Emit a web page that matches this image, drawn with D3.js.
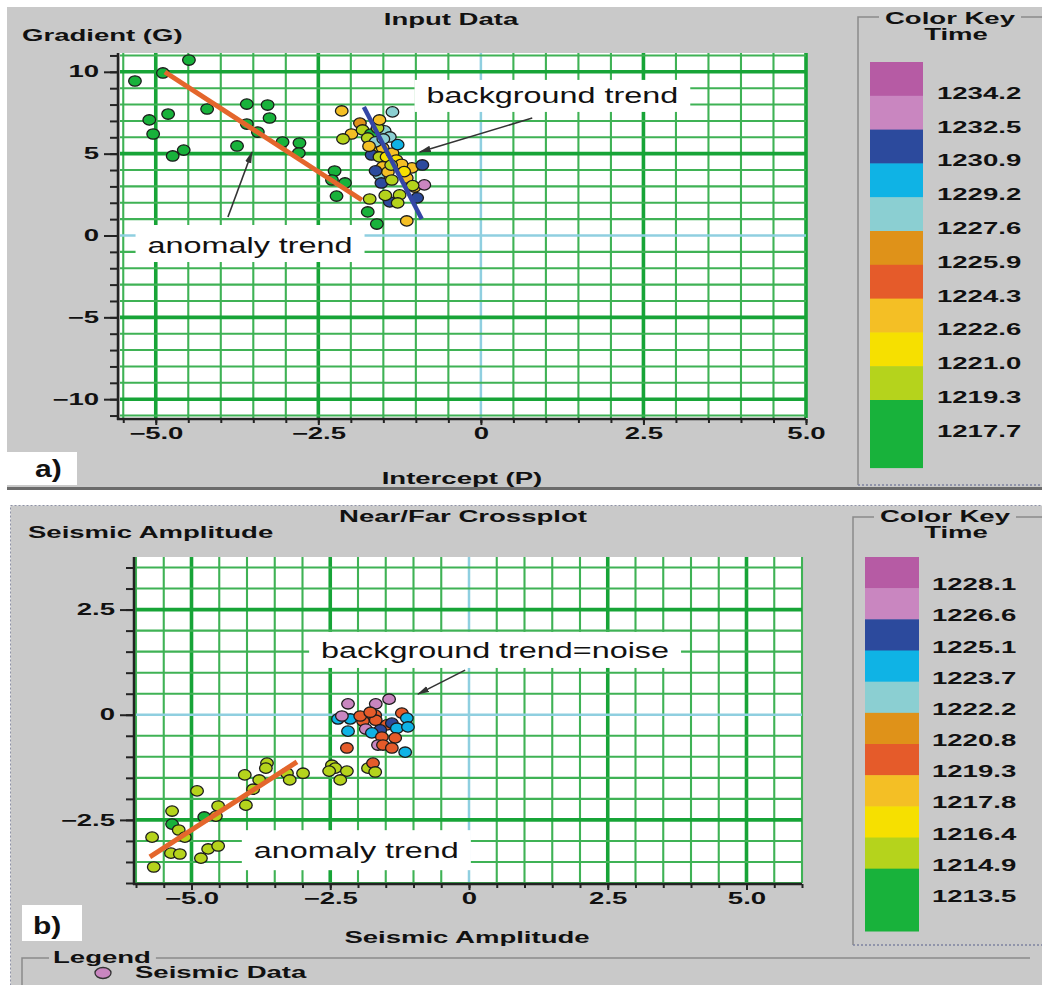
<!DOCTYPE html>
<html><head><meta charset="utf-8">
<script src="https://cdn.jsdelivr.net/npm/d3@7"></script>
<style>
html,body{margin:0;padding:0;background:#fff;}
svg{display:block;}
text{font-family:"Liberation Sans",Arial,sans-serif;}
</style></head><body>
<svg id="chart" width="1042" height="985"></svg>
<script>
// ================= DATA =================
const keyLabelsA = ["1234.2","1232.5","1230.9","1229.2","1227.6","1225.9","1224.3","1222.6","1221.0","1219.3","1217.7"];
const keyLabelsB = ["1228.1","1226.6","1225.1","1223.7","1222.2","1220.8","1219.3","1217.8","1216.4","1214.9","1213.5"];
// colours of the key, top to bottom
const keyColors = ["#b65ba4","#c986c0","#2c4a9d","#0fb3e5","#8bcfd2","#df9219","#e55b2a","#f4bf25","#f6e000","#b5d31c","#18b23b"];

const ticksAX = [-5, -2.5, 0, 2.5, 5];
const ticksAY = [10, 5, 0, -5, -10];
const ticksBX = [-5, -2.5, 0, 2.5, 5];
const ticksBY = [2.5, 0, -2.5];

// Panel a: Intercept (P) vs Gradient (G), colour = time
const aX = [-5.32,-4.89,-4.49,-5.10,-4.81,-5.04,-4.74,-4.57,-4.21,-3.60,-3.28,-3.25,-3.60,-3.43,-3.75,-3.05,-2.79,-2.80,-2.25,-2.22,-2.09,-2.29,-1.74,-1.60,
  -1.71,-2.14,-1.36,-1.86,-1.99,-2.12,-1.82,-1.69,-1.74,-1.48,-1.40,-1.66,-1.51,-1.68,-1.56,-1.45,-1.36,-1.30,-1.51,-1.06,-0.90,-1.56,-1.43,-1.53,-1.37,-1.14,-1.02,-0.87,-1.25,-1.40,-1.28,-1.14,-1.62,-1.59,-1.56,
  -1.50,-1.22,-1.38,-1.05,-1.47,-1.62,-1.28,-1.72,-1.18,-0.98];
const aY = [9.44,9.93,10.72,7.06,7.42,6.20,4.86,5.22,7.73,8.03,7.97,7.18,6.81,6.32,5.47,5.71,5.65,5.04,3.94,2.41,3.21,3.39,1.44,0.70,
  2.23,7.61,7.55,6.87,6.20,5.90,6.45,6.20,5.96,6.39,6.02,5.35,5.35,4.92,4.80,4.80,5.04,4.61,4.19,4.13,4.31,3.70,3.88,3.21,3.39,3.51,2.96,3.09,2.48,2.05,1.99,0.89,5.72,6.57,7.06,
  5.90,4.35,4.30,3.05,2.45,3.95,5.55,5.45,3.90,2.30];
const aTime = [1218.4,1218.4,1218.4,1218.4,1218.4,1218.4,1218.4,1218.4,1218.4,1218.4,1218.4,1218.4,1218.4,1218.4,1218.4,1218.4,1218.4,1218.4,1218.4,1218.4,1218.4,1218.4,1218.4,1218.4,
  1220.1,1223.4,1228.4,1226.8,1223.4,1220.1,1220.1,1218.4,1220.1,1228.4,1228.4,1221.8,1223.4,1231.7,1220.1,1221.8,1223.4,1221.8,1223.4,1223.4,1231.7,1228.4,1223.4,1231.7,1220.1,1223.4,1223.4,1233.3,1220.1,1231.7,1220.1,1223.4,1228.4,1220.1,1223.4,
  1228.4,1223.4,1220.1,1220.1,1220.1,1231.7,1230.0,1223.4,1221.8,1231.7];

// Panel b: Near/Far crossplot, colour = time
const bX = [-5.71,-5.35,-5.35,-5.23,-5.12,-5.37,-5.21,-5.68,-4.90,-4.77,-4.56,-4.52,-4.70,-4.52,-4.83,-4.04,-3.78,-3.64,-3.66,-4.02,-3.89,-3.28,-3.23,-2.99,-2.47,-2.41,-2.52,-2.20,-2.32,-1.82,-1.73,-1.69,
  -2.20,-1.15,-2.18,-1.68,-1.44,-1.21,-1.12,-2.36,-2.14,-2.29,-2.18,-1.91,-1.69,-1.68,-1.48,-1.39,-1.86,-1.60,-1.75,-1.30,-1.10,-1.57,-1.33,-1.64,-1.55,-1.39,-1.96,-1.78];
const bY = [-2.91,-2.29,-2.60,-2.74,-2.91,-3.29,-3.31,-3.62,-1.81,-2.43,-2.41,-2.17,-3.19,-3.12,-3.41,-1.43,-1.55,-1.15,-1.27,-2.15,-1.77,-1.39,-1.55,-1.39,-1.20,-1.27,-1.34,-1.34,-1.55,-1.27,-1.15,-1.36,
  -0.79,-0.89,0.26,0.26,0.37,0.04,-0.08,-0.10,-0.10,-0.03,-0.39,-0.15,-0.01,-0.13,-0.24,-0.20,-0.34,-0.36,-0.43,-0.32,-0.29,-0.53,-0.55,-0.72,-0.72,-0.79,-0.03,0.06];
const bTime = [1215.6,1215.6,1214.2,1215.6,1215.6,1215.6,1215.6,1215.6,1215.6,1214.2,1215.6,1215.6,1215.6,1215.6,1215.6,1215.6,1215.6,1215.6,1215.6,1215.6,1215.6,1215.6,1215.6,1215.6,1215.6,1215.6,1215.6,1215.6,1215.6,1215.6,1220.0,1215.6,
  1220.0,1224.4,1227.3,1227.3,1227.3,1220.0,1224.4,1224.4,1224.4,1227.3,1224.4,1220.0,1220.0,1220.0,1220.0,1225.8,1227.3,1225.8,1224.4,1224.4,1224.4,1220.0,1220.0,1227.3,1220.0,1220.0,1220.0,1220.0];

// trend lines
const trendAnomAX = [-4.86, -1.83], trendAnomAY = [9.99, 2.17];
const trendBgAX = [-1.80, -0.91],   trendBgAY = [7.85, 1.01];
const trendAnomBX = [-5.75, -3.10], trendAnomBY = [-3.38, -1.12];

// ================= DRAWING =================
const svg = d3.select("#chart");
const BOLD_SX = 1.72, REG_SX = 1.47;
function stretch(sel, k){
  sel.each(function(){
    const L = this.getComputedTextLength();
    this.setAttribute("textLength", (L*k).toFixed(1));
    this.setAttribute("lengthAdjust","spacingAndGlyphs");
  });
}
function boldText(g, x, y, str, size, anchor){
  const t = g.append("text").attr("x",x).attr("y",y).attr("font-size",size)
    .attr("font-weight","bold").attr("fill","#111").attr("text-anchor",anchor||"start").text(str);
  stretch(t, BOLD_SX);
  return t;
}

svg.append("rect").attr("width",1042).attr("height",985).attr("fill","#fff");
// panel a background
svg.append("rect").attr("x",7).attr("y",7).attr("width",1035).attr("height",481).attr("fill","#c9c9c9");
svg.append("line").attr("x1",7).attr("x2",1042).attr("y1",488.5).attr("y2",488.5).attr("stroke","#6b6b6b").attr("stroke-width",3);
// panel b background
svg.append("rect").attr("x",10.5).attr("y",505.5).attr("width",1040).attr("height",490)
  .attr("fill","#c9c9c9").attr("stroke","#8e92a6").attr("stroke-dasharray","2,2");

const defs = svg.append("defs");
defs.append("marker").attr("id","arr").attr("viewBox","0 0 12 8").attr("refX",11).attr("refY",4)
  .attr("markerWidth",12).attr("markerHeight",8).attr("markerUnits","userSpaceOnUse").attr("orient","auto")
  .append("path").attr("d","M0,0.8 L12,4 L0,7.2 Z").attr("fill","#333");

function panel(cfg){
  const g = svg.append("g");
  const x = d3.scaleLinear().domain(cfg.xd).range(cfg.xr);
  const y = d3.scaleLinear().domain(cfg.yd).range(cfg.yr);
  g.append("rect").attr("x",cfg.xr[0]).attr("y",cfg.yr[1]).attr("width",cfg.xr[1]-cfg.xr[0]).attr("height",cfg.yr[0]-cfg.yr[1]).attr("fill","#fff");
  const grid = g.append("g");
  const style = (v, step) => v === 0 ? {c:"#8fcfe0", w:2.5} : (Math.abs(v % step) < 1e-9 ? {c:"#17a437", w:3.6} : {c:"#3fb255", w:2.1});
  cfg.gx.forEach(v => { const s = style(v, cfg.majX);
    grid.append("line").attr("x1",x(v)).attr("x2",x(v)).attr("y1",cfg.yr[1]).attr("y2",cfg.yr[0]).attr("stroke",s.c).attr("stroke-width",s.w); });
  cfg.gy.forEach(v => { const s = style(v, cfg.majY);
    grid.append("line").attr("y1",y(v)).attr("y2",y(v)).attr("x1",cfg.xr[0]).attr("x2",cfg.xr[1]).attr("stroke",s.c).attr("stroke-width",s.w); });

  // axes
  const ax = g.append("g").attr("transform",`translate(0,${cfg.yr[0]+1})`);
  ax.call(d3.axisBottom(x).tickValues(cfg.gx).tickSize(4).tickFormat("").tickSizeOuter(0));
  ax.call(g2 => g2.select(".domain").remove());
  const axM = g.append("g").attr("transform",`translate(0,${cfg.yr[0]+1})`)
    .call(d3.axisBottom(x).tickValues(cfg.tx).tickSize(6).tickPadding(3).tickSizeOuter(0)
      .tickFormat(v => v === 0 ? "0" : d3.format(".1f")(v)));
  const ay = g.append("g").attr("transform",`translate(${cfg.xr[0]-2},0)`);
  ay.call(d3.axisLeft(y).tickValues(cfg.my).tickSize(8).tickFormat("").tickSizeOuter(0));
  ay.call(g2 => g2.select(".domain").remove());
  const ayM = g.append("g").attr("transform",`translate(${cfg.xr[0]-2},0)`)
    .call(d3.axisLeft(y).tickValues(cfg.ty).tickSize(14).tickPadding(5).tickSizeOuter(0)
      .tickFormat(v => v === 0 ? "0" : (cfg.yDec ? d3.format(".1f")(v) : d3.format("d")(v))));
  [ax, axM, ay, ayM].forEach(s => {
    s.selectAll("line").attr("stroke","#222").attr("stroke-width",2);
    s.selectAll(".domain").attr("stroke","#222").attr("stroke-width",2.5);
    s.selectAll("text").attr("font-size",16).attr("font-weight","bold").attr("fill","#111")
      .attr("font-family","Liberation Sans, Arial, sans-serif");
  });
  axM.select(".domain").attr("d",`M${cfg.xr[0]-3},0H${cfg.xr[1]}`);
  ayM.select(".domain").attr("d",`M0,${cfg.yr[1]}V${cfg.yr[0]+2}`);
  stretch(axM.selectAll("text"), BOLD_SX);
  stretch(ayM.selectAll("text"), BOLD_SX);

  // annotation boxes + text
  const boxG = g.append("g"), noteG = g.append("g");
  cfg.notes.forEach(n => {
    const t = noteG.append("text").attr("x",x(n.x)).attr("y",y(n.y)).attr("text-anchor","middle")
      .attr("font-size",22).attr("fill","#111").text(n.text);
    stretch(t, REG_SX);
    const L = +t.attr("textLength");
    boxG.append("rect").attr("x",x(n.x)-L/2-n.px).attr("y",y(n.y)-n.top)
      .attr("width",L+2*n.px).attr("height",n.top+n.bot).attr("fill","#fff");
  });
  // points
  const col = d3.scaleThreshold().domain(cfg.thr).range(keyColors.slice().reverse());
  g.append("g").selectAll("ellipse").data(d3.range(cfg.px.length)).join("ellipse")
    .attr("cx", i => x(cfg.px[i])).attr("cy", i => y(cfg.py[i]))
    .attr("rx",6.3).attr("ry",5.2).attr("fill", i => col(cfg.pt[i]))
    .attr("stroke","#1b1b1b").attr("stroke-width",1.3);
  // trend lines
  const line = d3.line().x(d => x(d[0])).y(d => y(d[1]));
  cfg.trends.forEach(tr => {
    g.append("path").attr("d", line(d3.zip(tr.xs, tr.ys))).attr("stroke",tr.c).attr("stroke-width",tr.w)
      .attr("fill","none").attr("stroke-linecap","butt");
  });
  // arrows
  cfg.arrows.forEach(a => {
    g.append("line").attr("x1",x(a[0])).attr("y1",y(a[1])).attr("x2",x(a[2])).attr("y2",y(a[3]))
      .attr("stroke","#333").attr("stroke-width",1.6).attr("marker-end","url(#arr)");
  });
  return {x,y};
}

// ---- Panel a ----
panel({
  xd:[-5.55,5], xr:[120,806], yd:[-11.15,11.15], yr:[418,53],
  gx: d3.range(-11,11).map(i => i*0.5), gy: d3.range(-11,12), majX:2.5, majY:5,
  tx: ticksAX, ty: ticksAY, my: d3.range(-11,12), yDec:false,
  notes:[{text:"anomaly trend", x:-3.55, y:-1.07, px:12, top:28, bot:9},
         {text:"background trend", x:1.10, y:8.10, px:12, top:23, bot:9}],
  px:aX, py:aY, pt:aTime,
  thr:[1219.3,1221.0,1222.6,1224.3,1225.9,1227.6,1229.2,1230.9,1232.5,1234.2],
  trends:[{xs:trendAnomAX, ys:trendAnomAY, c:"#e4662c", w:5},
          {xs:trendBgAX, ys:trendBgAY, c:"#3446a6", w:4.5}],
  arrows:[[-3.89,1.13,-3.52,5.10],[0.79,7.18,-0.94,5.10]]
});

// ---- Panel b ----
panel({
  xd:[-6,6], xr:[136,802], yd:[-4,3.75], yr:[883,557],
  gx: d3.range(-12,13).map(i => i*0.5), gy: d3.range(-8,8).map(i => i*0.5), majX:2.5, majY:2.5,
  tx: ticksBX, ty: ticksBY, my: d3.range(-8,8).map(i => i*0.5), yDec:true,
  notes:[{text:"background trend=noise", x:0.47, y:1.35, px:12, top:26, bot:10},
         {text:"anomaly trend", x:-2.03, y:-3.41, px:12, top:28, bot:12}],
  px:bX, py:bY, pt:bTime,
  thr:[1214.9,1216.4,1217.8,1219.3,1220.8,1222.2,1223.7,1225.1,1226.6,1228.1],
  trends:[{xs:trendAnomBX, ys:trendAnomBY, c:"#e4662c", w:5}],
  arrows:[[-0.07,1.06,-0.92,0.49]]
});

// ---- titles ----
const T = svg.append("g");
boldText(T, 451, 25, "Input Data", 16, "middle");
boldText(T, 22, 41, "Gradient (G)", 16, "start");
boldText(T, 462, 484, "Intercept (P)", 16, "middle");
boldText(T, 463, 522, "Near/Far Crossplot", 16, "middle");
boldText(T, 28, 538, "Seismic Amplitude", 16, "start");
boldText(T, 467, 943, "Seismic Amplitude", 16, "middle");

// a) b) tags
T.append("rect").attr("x",7).attr("y",452).attr("width",70).attr("height",33).attr("fill","#fff");
const ta = T.append("text").attr("x",35).attr("y",477).attr("font-size",24).attr("font-weight","bold").attr("fill","#111").text("a)");
stretch(ta, 1.25);
T.append("rect").attr("x",22).attr("y",905).attr("width",60).attr("height",36).attr("fill","#fff");
const tb = T.append("text").attr("x",33).attr("y",934).attr("font-size",24).attr("font-weight","bold").attr("fill","#111").text("b)");
stretch(tb, 1.25);

// ---- colour keys ----
function colorKey(cfg){
  const g = svg.append("g");
  const t1 = boldText(g, cfg.cx1, cfg.ty1, "Color Key", 16, "middle");
  boldText(g, cfg.cx2, cfg.ty2, "Time", 16, "middle");
  const L = +t1.attr("textLength");
  const fy = cfg.frameTop;
  g.append("path").attr("d",`M${cfg.cx1-L/2-6},${fy}H${cfg.fx}V${cfg.frameBot}`).attr("fill","none").attr("stroke","#8a8a8a").attr("stroke-width",1.5);
  g.append("line").attr("x1",cfg.cx1+L/2+6).attr("x2",1042).attr("y1",fy).attr("y2",fy).attr("stroke","#8a8a8a").attr("stroke-width",1.5);
  g.append("line").attr("x1",cfg.fx).attr("x2",1042).attr("y1",cfg.frameBot).attr("y2",cfg.frameBot).attr("stroke","#7d82a0").attr("stroke-width",1.5).attr("stroke-dasharray","2,2");
  const ys = d3.scaleLinear().domain([0,12]).range([cfg.top, cfg.bot]);
  keyColors.forEach((c,i) => {
    const i2 = i === keyColors.length-1 ? 12 : i+1;
    g.append("rect").attr("x",cfg.sx).attr("width",cfg.sw).attr("y",ys(i)).attr("height",ys(i2)-ys(i)+0.5).attr("fill",c);
  });
  cfg.labels.forEach((s,i) => boldText(g, cfg.lx, ys(i+1)+cfg.ld, s, 16, "start"));
}
colorKey({labels:keyLabelsA, cx1:950, ty1:24, cx2:956, ty2:40, fx:858, frameTop:17, frameBot:485,
  sx:870, sw:53, top:62, bot:467.6, lx:937, ld:3});
colorKey({labels:keyLabelsB, cx1:945, ty1:522, cx2:956, ty2:538, fx:853, frameTop:517, frameBot:945,
  sx:865, sw:54, top:557, bot:931, lx:932, ld:2});

// ---- legend ----
const lg = svg.append("g");
const lt = boldText(lg, 53, 963, "Legend", 16, "start");
const LL = +lt.attr("textLength");
lg.append("path").attr("d",`M49,958H22V990`).attr("fill","none").attr("stroke","#8a8a8a").attr("stroke-width",1.5);
lg.append("line").attr("x1",53+LL+5).attr("x2",1030).attr("y1",958).attr("y2",958).attr("stroke","#8a8a8a").attr("stroke-width",1.5);
lg.append("ellipse").attr("cx",103).attr("cy",973).attr("rx",8).attr("ry",5.5).attr("fill",keyColors[1]).attr("stroke","#333").attr("stroke-width",1.3);
boldText(lg, 135, 978, "Seismic Data", 16, "start");
</script>
</body></html>
